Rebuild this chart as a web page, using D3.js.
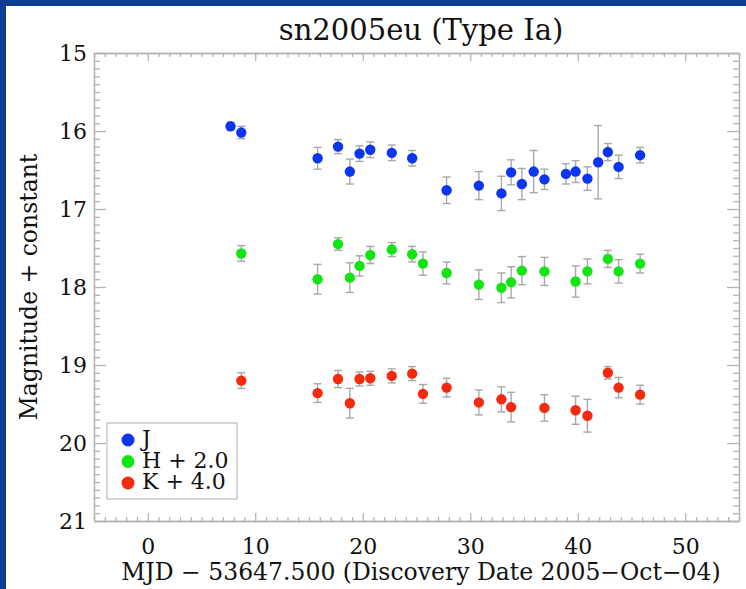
<!DOCTYPE html>
<html>
<head>
<meta charset="utf-8">
<script src="https://cdn.jsdelivr.net/npm/d3@7"></script>
<style>
  html, body { margin: 0; padding: 0; background: #fff; }
  svg { display: block; }
</style>
</head>
<body>
<div id="chart"></div>
<script>
// epochs (MJD - 53647.5) and magnitudes
const jDays = [7.7, 8.7, 15.8, 17.7, 18.8, 19.7, 20.7, 22.7, 24.6, 27.8, 30.8, 32.9, 33.8, 34.8, 35.9, 36.9, 38.9, 39.8, 40.9, 41.9, 42.8, 43.8, 45.8];
const jMag  = [15.94, 16.02, 16.35, 16.20, 16.52, 16.29, 16.24, 16.28, 16.35, 16.76, 16.70, 16.80, 16.53, 16.68, 16.52, 16.62, 16.55, 16.52, 16.61, 16.40, 16.27, 16.46, 16.31];
const jErr  = [0.05, 0.08, 0.14, 0.09, 0.16, 0.10, 0.10, 0.10, 0.10, 0.17, 0.18, 0.22, 0.16, 0.20, 0.27, 0.13, 0.13, 0.14, 0.15, 0.47, 0.11, 0.15, 0.10];

const hDays = [8.7, 15.8, 17.7, 18.8, 19.7, 20.7, 22.7, 24.6, 25.6, 27.8, 30.8, 32.9, 33.8, 34.8, 36.9, 39.8, 40.9, 42.8, 43.8, 45.8];
const hMag  = [17.57, 17.90, 17.45, 17.88, 17.73, 17.59, 17.52, 17.58, 17.70, 17.82, 17.97, 18.01, 17.94, 17.79, 17.80, 17.93, 17.80, 17.64, 17.80, 17.70];
const hErr  = [0.10, 0.19, 0.08, 0.19, 0.13, 0.11, 0.09, 0.10, 0.15, 0.14, 0.19, 0.19, 0.20, 0.18, 0.18, 0.20, 0.16, 0.11, 0.15, 0.12];

const kDays = [8.7, 15.8, 17.7, 18.8, 19.7, 20.7, 22.7, 24.6, 25.6, 27.8, 30.8, 32.9, 33.8, 36.9, 39.8, 40.9, 42.8, 43.8, 45.8];
const kMag  = [19.20, 19.36, 19.18, 19.49, 19.18, 19.17, 19.14, 19.11, 19.37, 19.29, 19.48, 19.44, 19.54, 19.55, 19.58, 19.65, 19.10, 19.29, 19.38];
const kErr  = [0.10, 0.12, 0.11, 0.19, 0.09, 0.09, 0.09, 0.09, 0.12, 0.12, 0.16, 0.16, 0.19, 0.17, 0.18, 0.21, 0.08, 0.13, 0.12];

const seriesNames = ["J", "H + 2.0", "K + 4.0"];
const seriesColors = ["#0b35f2", "#14e414", "#f5290b"];
const xTicks = [0, 10, 20, 30, 40, 50];
const yTicks = [15, 16, 17, 18, 19, 20, 21];

const width = 746, height = 589;
const margin = { top: 53, right: 7, bottom: 68, left: 94 };
const font = "'DejaVu Serif', serif";
const axisGray = "#b4b4b4";

const svg = d3.select("#chart").append("svg")
  .attr("width", width)
  .attr("height", height);

// blue frame at top/left
svg.append("rect").attr("x", 0).attr("y", 0).attr("width", width).attr("height", 6).attr("fill", "#0b3d91");
svg.append("rect").attr("x", 0).attr("y", 0).attr("width", 6).attr("height", height).attr("fill", "#0b3d91");

const x = d3.scaleLinear().domain([-5, 55]).range([margin.left, width - margin.right]);
const y = d3.scaleLinear().domain([15, 21]).range([margin.top, height - margin.bottom]);

// minor ticks
const xMinor = d3.range(-5, 56, 1).filter(v => v % 10 !== 0);
const yMinor = d3.range(150, 211, 1).map(v => v / 10).filter(v => !Number.isInteger(v));

function styleAxis(g) {
  g.select(".domain").attr("stroke", axisGray).attr("stroke-width", 1.3);
  g.selectAll(".tick line").attr("stroke", axisGray).attr("stroke-width", 1.3);
  g.selectAll("text").attr("font-family", font).attr("font-size", 22).attr("fill", "#111");
}

// bottom
svg.append("g").attr("transform", `translate(0,${y(21)})`)
  .call(d3.axisBottom(x).tickValues(xMinor).tickSize(-4).tickFormat("").tickSizeOuter(0))
  .call(styleAxis);
svg.append("g").attr("transform", `translate(0,${y(21)})`)
  .call(d3.axisBottom(x).tickValues(xTicks).tickSize(-8).tickPadding(17).tickFormat(d3.format("d")).tickSizeOuter(0))
  .call(styleAxis);
// top
svg.append("g").attr("transform", `translate(0,${y(15)})`)
  .call(d3.axisTop(x).tickValues(xMinor).tickSize(-4).tickFormat("").tickSizeOuter(0))
  .call(styleAxis);
svg.append("g").attr("transform", `translate(0,${y(15)})`)
  .call(d3.axisTop(x).tickValues(xTicks).tickSize(-8).tickFormat("").tickSizeOuter(0))
  .call(styleAxis);
// left
svg.append("g").attr("transform", `translate(${x(-5)},0)`)
  .call(d3.axisLeft(y).tickValues(yMinor).tickSize(-6).tickFormat("").tickSizeOuter(0))
  .call(styleAxis);
svg.append("g").attr("transform", `translate(${x(-5)},0)`)
  .call(d3.axisLeft(y).tickValues(yTicks).tickSize(-12).tickPadding(7).tickFormat(d3.format("d")).tickSizeOuter(0))
  .call(styleAxis);
// right
svg.append("g").attr("transform", `translate(${x(55)},0)`)
  .call(d3.axisRight(y).tickValues(yMinor).tickSize(-6).tickFormat("").tickSizeOuter(0))
  .call(styleAxis);
svg.append("g").attr("transform", `translate(${x(55)},0)`)
  .call(d3.axisRight(y).tickValues(yTicks).tickSize(-12).tickFormat("").tickSizeOuter(0))
  .call(styleAxis);

// title and axis labels
svg.append("text")
  .attr("x", 421).attr("y", 40)
  .attr("text-anchor", "middle")
  .attr("font-family", font).attr("font-size", 29).attr("fill", "#111")
  .text("sn2005eu (Type Ia)");

svg.append("text")
  .attr("x", 421).attr("y", 580)
  .attr("text-anchor", "middle")
  .attr("font-family", font).attr("font-size", 23.5).attr("fill", "#111")
  .text("MJD \u2212 53647.500 (Discovery Date 2005\u2212Oct\u221204)");

svg.append("text")
  .attr("transform", `translate(37,${(y(15) + y(21)) / 2}) rotate(-90)`)
  .attr("text-anchor", "middle")
  .attr("font-family", font).attr("font-size", 23.5).attr("fill", "#111")
  .text("Magnitude + constant");

// data
const series = [
  { days: jDays, mag: jMag, err: jErr },
  { days: hDays, mag: hMag, err: hErr },
  { days: kDays, mag: kMag, err: kErr }
].map((s, i) => ({
  color: seriesColors[i],
  points: s.days.map((d, j) => ({ day: d, mag: s.mag[j], err: s.err[j] }))
}));

const capW = 4;
series.forEach(s => {
  const g = svg.append("g");
  const eb = g.selectAll("g.err").data(s.points).join("g")
    .attr("stroke", "#a8a8a8").attr("stroke-width", 1.4).attr("fill", "none");
  eb.append("line")
    .attr("x1", d => x(d.day)).attr("x2", d => x(d.day))
    .attr("y1", d => y(d.mag - d.err)).attr("y2", d => y(d.mag + d.err));
  eb.append("line")
    .attr("x1", d => x(d.day) - capW).attr("x2", d => x(d.day) + capW)
    .attr("y1", d => y(d.mag - d.err)).attr("y2", d => y(d.mag - d.err));
  eb.append("line")
    .attr("x1", d => x(d.day) - capW).attr("x2", d => x(d.day) + capW)
    .attr("y1", d => y(d.mag + d.err)).attr("y2", d => y(d.mag + d.err));
  g.selectAll("circle").data(s.points).join("circle")
    .attr("cx", d => x(d.day)).attr("cy", d => y(d.mag))
    .attr("r", 5.2)
    .attr("fill", s.color);
});

// legend
const legend = svg.append("g");
legend.append("rect")
  .attr("x", 107).attr("y", 423).attr("width", 130).attr("height", 76)
  .attr("fill", "#fff").attr("stroke", "#bdbdbd").attr("stroke-width", 1.2);
seriesNames.forEach((name, i) => {
  legend.append("circle")
    .attr("cx", 128).attr("cy", 440 + i * 21.5).attr("r", 6.5)
    .attr("fill", seriesColors[i]);
  legend.append("text")
    .attr("x", 142).attr("y", 446 + i * 21.5)
    .attr("font-family", font).attr("font-size", 22).attr("fill", "#111")
    .text(name);
});
</script>
</body>
</html>
